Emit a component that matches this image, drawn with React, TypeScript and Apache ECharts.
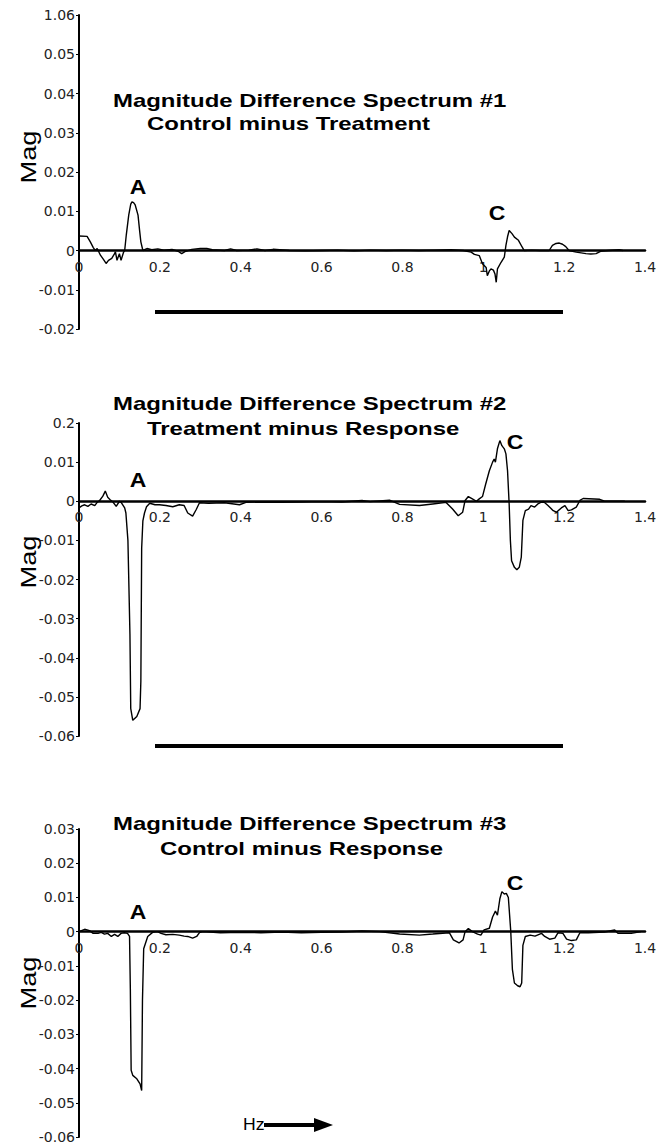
import React, { useEffect, useRef } from "react";
import * as echarts from "echarts";

// ---------- tick labels (as printed in the reference) ----------
const xTickLabels = ["0", "0.2", "0.4", "0.6", "0.8", "1", "1.2", "1.4"];
const p1YTickLabels = ["-0.02", "-0.01", "0", "0.01", "0.02", "0.03", "0.04", "0.05", "1.06"];
const p2YTickLabels = ["-0.06", "-0.05", "-0.04", "-0.03", "-0.02", "-0.01", "0", "0.01", "0.2"];
const p3YTickLabels = ["-0.06", "-0.05", "-0.04", "-0.03", "-0.02", "-0.01", "0", "0.01", "0.02", "0.03"];

const titles1 = ["Magnitude Difference Spectrum #1", "Control minus Treatment"];
const titles2 = ["Magnitude Difference Spectrum #2", "Treatment minus Response"];
const titles3 = ["Magnitude Difference Spectrum #3", "Control minus Response"];

// ---------- Spectrum #1 : Control minus Treatment ----------
const p1Hz = [
  0.0, 0.02, 0.028, 0.035, 0.04, 0.045, 0.053, 0.06, 0.067, 0.073, 0.081, 0.088, 0.09, 0.094, 0.1, 0.104,
  0.11, 0.113, 0.117, 0.123, 0.128, 0.131, 0.135, 0.139, 0.146, 0.15, 0.153, 0.158, 0.168, 0.18, 0.195,
  0.21, 0.23, 0.245, 0.254, 0.262, 0.279, 0.3, 0.316, 0.33, 0.36, 0.375, 0.39, 0.42, 0.44, 0.46, 0.48,
  0.52, 0.56, 0.6, 0.64, 0.68, 0.72, 0.76, 0.8, 0.84, 0.88, 0.92, 0.95, 0.97, 0.978, 0.99, 0.998, 1.007,
  1.01, 1.015, 1.019, 1.025, 1.029, 1.032, 1.035, 1.044, 1.052, 1.056, 1.06, 1.064, 1.071, 1.077, 1.087,
  1.096, 1.101, 1.12, 1.14, 1.163, 1.171, 1.18, 1.188, 1.196, 1.204, 1.212, 1.23, 1.254, 1.266, 1.279,
  1.29, 1.31, 1.336, 1.345,
];
const p1Mag = [
  0.0037, 0.0036, 0.0022, 0.0008, 0.0, 0.0005, -0.0012, -0.0022, -0.0033, -0.0025, -0.002, -0.0008, -0.0003,
  -0.0025, -0.0008, -0.0025, -0.0005, 0.0, 0.004, 0.009, 0.0118, 0.0124, 0.0122, 0.0116, 0.009, 0.005, 0.0022,
  0.0, 0.0005, 0.0002, 0.0004, 0.0001, 0.0003, -0.0002, -0.0008, -0.0003, 0.0003, 0.0005, 0.0005, 0.0002, 0.0,
  0.0004, 0.0, 0.0001, 0.0004, 0.0, 0.0003, 0.0, -0.0001, 0.0, 0.0001, -0.0001, 0.0001, 0.0, 0.0001, 0.0,
  0.0001, 0.0002, 0.0, -0.0004, -0.001, -0.0013, -0.0034, -0.0043, -0.0064, -0.0052, -0.0047, -0.005, -0.006,
  -0.0081, -0.0047, -0.003, -0.0017, 0.0013, 0.0035, 0.0051, 0.0043, 0.0034, 0.0026, 0.0009, 0.0, 0.0001, 0.0,
  0.0, 0.0013, 0.0018, 0.0019, 0.0016, 0.001, 0.0, -0.0004, -0.0008, -0.0009, -0.0008, -0.0002, 0.0, 0.0002, 0.0,
];

// ---------- Spectrum #2 : Treatment minus Response ----------
const p2Hz = [
  0.0, 0.007, 0.014, 0.022, 0.03, 0.039, 0.044, 0.051, 0.059, 0.065, 0.071, 0.077, 0.084, 0.092, 0.1, 0.105,
  0.113, 0.116, 0.121, 0.126, 0.128, 0.133, 0.143, 0.151, 0.153, 0.155, 0.158, 0.162, 0.167, 0.175, 0.188,
  0.199, 0.215, 0.232, 0.248, 0.26, 0.269, 0.281, 0.29, 0.298, 0.32, 0.36, 0.397, 0.413, 0.45, 0.5, 0.55,
  0.6, 0.65, 0.7, 0.72, 0.768, 0.793, 0.842, 0.875, 0.908, 0.924, 0.938, 0.949, 0.955, 0.963, 0.973, 0.983,
  0.99, 0.998, 1.006, 1.015, 1.023, 1.027, 1.03, 1.035, 1.041, 1.046, 1.052, 1.056, 1.06, 1.064, 1.067, 1.07,
  1.077, 1.083, 1.089, 1.094, 1.098, 1.104, 1.112, 1.118, 1.127, 1.135, 1.148, 1.16, 1.173, 1.181, 1.193,
  1.202, 1.21, 1.218, 1.23, 1.239, 1.247, 1.288, 1.3, 1.35,
];
const p2Mag = [
  -0.0017, -0.0012, -0.0009, -0.0013, -0.0007, -0.0011, -0.0004, 0.0002, 0.0013, 0.0026, 0.001, 0.0004, -0.0002,
  -0.0013, 0.0, -0.0004, -0.0017, -0.003, -0.01, -0.034, -0.053, -0.056, -0.055, -0.053, -0.046, -0.012, -0.005,
  -0.003, -0.0014, -0.0005, -0.0009, -0.0009, -0.0011, -0.0014, -0.0009, -0.0011, -0.003, -0.0038, -0.0021,
  -0.0004, -0.0005, -0.0004, -0.0009, -0.0003, -0.0002, -0.0003, -0.0002, -0.0001, -0.0002, 0.0002, -0.0001,
  0.0003, -0.0008, -0.0011, -0.0007, -0.0003, -0.002, -0.0037, -0.0028, 0.0002, 0.0012, 0.0006, 0.0, 0.0006,
  0.0012, 0.0044, 0.0078, 0.01, 0.0108, 0.01, 0.0134, 0.0155, 0.0142, 0.0134, 0.0121, 0.0078, -0.0007, -0.01,
  -0.0152, -0.0169, -0.0175, -0.0169, -0.0143, -0.0049, -0.0024, -0.002, -0.0011, -0.0015, -0.0007, 0.0,
  -0.0011, -0.0024, -0.0028, -0.0017, -0.0011, -0.0024, -0.0022, -0.0015, 0.0002, 0.0007, 0.0005, 0.0, 0.0,
];

// ---------- Spectrum #3 : Control minus Response ----------
const p3Hz = [
  0.0, 0.014, 0.026, 0.035, 0.047, 0.055, 0.063, 0.071, 0.08, 0.088, 0.096, 0.104, 0.112, 0.12, 0.125, 0.127,
  0.129, 0.133, 0.143, 0.151, 0.155, 0.157, 0.16, 0.17, 0.182, 0.194, 0.203, 0.215, 0.232, 0.248, 0.26, 0.269,
  0.281, 0.291, 0.298, 0.306, 0.35, 0.4, 0.45, 0.5, 0.55, 0.6, 0.65, 0.7, 0.743, 0.793, 0.842, 0.875, 0.916,
  0.926, 0.94, 0.95, 0.955, 0.963, 0.973, 0.986, 0.994, 1.002, 1.015, 1.023, 1.03, 1.035, 1.041, 1.046, 1.052,
  1.057, 1.062, 1.068, 1.072, 1.077, 1.085, 1.091, 1.095, 1.098, 1.104, 1.116, 1.128, 1.144, 1.152, 1.164,
  1.177, 1.185, 1.197, 1.206, 1.218, 1.23, 1.239, 1.26, 1.3, 1.325, 1.333, 1.366, 1.39,
];
const p3Mag = [
  0.0, 0.0007, 0.0003, -0.0005, -0.0005, -0.0002, -0.0007, -0.0005, -0.0014, -0.0008, -0.0014, -0.0005, -0.0003,
  -0.0005, -0.0014, -0.0167, -0.0405, -0.042, -0.043, -0.0445, -0.0464, -0.02, -0.005, -0.0014, -0.0002, 0.0,
  -0.0005, -0.0009, -0.0008, -0.001, -0.0013, -0.0014, -0.0019, -0.0014, -0.0003, 0.0, -0.0003, -0.0002, -0.0003,
  -0.0001, -0.0003, -0.0002, -0.0001, 0.0002, 0.0, -0.0007, -0.001, -0.0007, -0.0003, -0.0024, -0.0033, -0.0024,
  0.0, 0.0009, 0.0, -0.0007, -0.001, 0.0005, 0.001, 0.0043, 0.006, 0.0048, 0.0096, 0.0117, 0.011, 0.0112, 0.01,
  0.0, -0.011, -0.015, -0.0158, -0.0161, -0.015, -0.004, -0.0014, -0.001, -0.0013, -0.0005, -0.0014, -0.0022,
  -0.0019, -0.0003, -0.0005, -0.0022, -0.0026, -0.0024, -0.0003, -0.0003, -0.0001, 0.0005, -0.0005, -0.0005, 0.0,
];

const zip = (xs: number[], ys: number[]) => xs.map((x, i) => [x, ys[i]]);

const LABEL_FONT = "'DejaVu Sans', 'Liberation Sans', Arial, sans-serif";
const TEXT_FONT = "'Liberation Sans', Arial, Helvetica, sans-serif";

export default function App() {
  const ref = useRef<HTMLDivElement>(null);

  useEffect(() => {
    if (!ref.current) return;
    const chart = echarts.init(ref.current, null, { renderer: "svg" });

    const panels = [
      { grid: { left: 79, top: 15, width: 566, height: 314 }, min: -0.02, max: 0.06, labels: p1YTickLabels, data: zip(p1Hz, p1Mag) },
      { grid: { left: 79, top: 423, width: 566, height: 313 }, min: -0.06, max: 0.02, labels: p2YTickLabels, data: zip(p2Hz, p2Mag) },
      { grid: { left: 79, top: 829, width: 566, height: 308 }, min: -0.06, max: 0.03, labels: p3YTickLabels, data: zip(p3Hz, p3Mag) },
    ];

    const text = (
      str: string,
      x: number,
      y: number,
      opts: { size: number; bold?: boolean; align?: string; scaleX?: number; rotation?: number }
    ) => ({
      type: "text",
      x,
      y,
      scaleX: opts.scaleX ?? 1,
      rotation: opts.rotation ?? 0,
      silent: true,
      style: {
        text: str,
        fill: "#000",
        font: `${opts.bold ? "bold " : ""}${opts.size}px ${TEXT_FONT}`,
        textAlign: opts.align ?? "left",
        align: opts.align ?? "left",
        textVerticalAlign: "middle",
        verticalAlign: "middle",
      },
    });

    const graphics: any[] = [
      // titles
      text(titles1[0], 113, 101, { size: 18, bold: true, scaleX: 1.33 }),
      text(titles1[1], 147, 124, { size: 18, bold: true, scaleX: 1.33 }),
      text(titles2[0], 113, 404, { size: 18, bold: true, scaleX: 1.33 }),
      text(titles2[1], 147, 429, { size: 18, bold: true, scaleX: 1.33 }),
      text(titles3[0], 113, 824, { size: 18, bold: true, scaleX: 1.33 }),
      text(titles3[1], 160, 849, { size: 18, bold: true, scaleX: 1.33 }),
      // y axis names
      text("Mag", 28, 157, { size: 22, align: "center", scaleX: 1.24, rotation: Math.PI / 2 }),
      text("Mag", 28, 562, { size: 22, align: "center", scaleX: 1.24, rotation: Math.PI / 2 }),
      text("Mag", 28, 983, { size: 22, align: "center", scaleX: 1.24, rotation: Math.PI / 2 }),
      // peak annotations
      text("A", 138, 187, { size: 20, bold: true, align: "center", scaleX: 1.15 }),
      text("C", 497, 213, { size: 20, bold: true, align: "center", scaleX: 1.15 }),
      text("A", 138, 480, { size: 20, bold: true, align: "center", scaleX: 1.15 }),
      text("C", 515, 442, { size: 20, bold: true, align: "center", scaleX: 1.15 }),
      text("A", 138, 912, { size: 20, bold: true, align: "center", scaleX: 1.15 }),
      text("C", 515, 883, { size: 20, bold: true, align: "center", scaleX: 1.15 }),
      // separator bars
      { type: "rect", silent: true, shape: { x: 155, y: 310, width: 408, height: 4 }, style: { fill: "#000" } },
      { type: "rect", silent: true, shape: { x: 155, y: 744, width: 408, height: 4 }, style: { fill: "#000" } },
      // Hz arrow
      text("Hz", 243, 1125, { size: 16, scaleX: 1.1 }),
      { type: "rect", silent: true, shape: { x: 264, y: 1123, width: 54, height: 4 }, style: { fill: "#000" } },
      { type: "polygon", silent: true, shape: { points: [[314, 1118], [333, 1125], [314, 1132]] }, style: { fill: "#000" } },
    ];

    // distance (px) from each grid's bottom edge up to its zero line, so the x axis sits on y = 0
    const zeroOffset = (p: (typeof panels)[number]) => -(p.grid.height * (0 - p.min)) / (p.max - p.min);

    chart.setOption({
      animation: false,
      backgroundColor: "#fff",
      grid: panels.map((p) => ({ ...p.grid, containLabel: false })),
      xAxis: panels.map((p, i) => ({
        type: "value",
        gridIndex: i,
        position: "bottom",
        offset: zeroOffset(p),
        min: 0,
        max: 1.4,
        interval: 0.2,
        axisLine: { show: true, onZero: false, lineStyle: { color: "#000", width: 2.5 } },
        axisTick: { show: false },
        splitLine: { show: false },
        axisLabel: {
          margin: 9,
          color: "#222",
          fontSize: 14,
          fontFamily: LABEL_FONT,
          formatter: (v: number) => xTickLabels[Math.round(v / 0.2)] ?? "",
        },
      })),
      yAxis: panels.map((p, i) => ({
        type: "value",
        gridIndex: i,
        min: p.min,
        max: p.max,
        interval: 0.01,
        axisLine: { show: true, onZero: false, lineStyle: { color: "#000", width: 2 } },
        axisTick: { show: true, length: 3, inside: false, lineStyle: { color: "#000", width: 1 } },
        splitLine: { show: false },
        axisLabel: {
          margin: 4,
          color: "#222",
          fontSize: 14,
          fontFamily: LABEL_FONT,
          formatter: (v: number) => p.labels[Math.round((v - p.min) / 0.01)] ?? "",
        },
      })),
      series: panels.map((p, i) => ({
        type: "line",
        xAxisIndex: i,
        yAxisIndex: i,
        data: p.data,
        showSymbol: false,
        symbol: "none",
        smooth: false,
        lineStyle: { color: "#000", width: 1.4 },
        silent: true,
        z: 1,
      })),
      graphic: graphics,
    });

    return () => chart.dispose();
  }, []);

  return (
    <div
      ref={ref}
      style={{ position: "absolute", left: 0, top: 0, width: 667, height: 1144, background: "#fff" }}
    />
  );
}
